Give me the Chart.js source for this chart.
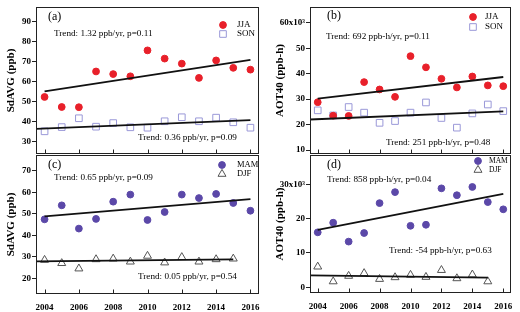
<!DOCTYPE html>
<html>
<head>
<meta charset="utf-8">
<script src="https://cdn.jsdelivr.net/npm/chart.js@4.4.0/dist/chart.umd.min.js"></script>
<style>
  body { margin: 0; background: #fff; }
  #wrap { position: relative; width: 520px; height: 312px; }
  canvas { position: absolute; left: 0; top: 0; }
</style>
</head>
<body>
<div id="wrap">
  <canvas id="panelA" width="520" height="312"></canvas>
  <canvas id="panelB" width="520" height="312"></canvas>
  <canvas id="panelC" width="520" height="312"></canvas>
  <canvas id="panelD" width="520" height="312"></canvas>
</div>
<script>
// years on the x axis
const years = [2004, 2005, 2006, 2007, 2008, 2009, 2010, 2011, 2012, 2013, 2014, 2015, 2016];
const yearsDJF = [2004, 2005, 2006, 2007, 2008, 2009, 2010, 2011, 2012, 2013, 2014, 2015];
const yearTicks = [2004, 2006, 2008, 2010, 2012, 2014, 2016];

// y tick values per panel
const ticksA = [30, 40, 50, 60, 70, 80, 90];
const ticksB = [10000, 20000, 30000, 40000, 50000, 60000];
const ticksC = [20, 30, 40, 50, 60, 70];
const ticksD = [0, 10000, 20000, 30000];

// SdAVG (ppb)
const sdavgJJA = [52.3, 47.3, 47.2, 65.0, 63.7, 62.6, 75.5, 71.4, 68.9, 61.8, 70.5, 66.8, 65.9];
const sdavgSON = [35.2, 37.3, 41.7, 37.5, 39.3, 37.2, 37.0, 40.2, 42.2, 40.2, 42.0, 39.7, 37.0];
const sdavgMAM = [47.4, 53.9, 43.1, 47.6, 55.6, 58.9, 47.1, 50.8, 58.9, 57.3, 59.2, 55.0, 51.4];
const sdavgDJF = [28.5, 27.0, 24.5, 28.8, 29.1, 27.7, 30.4, 27.3, 29.8, 27.7, 28.8, 29.1];

// AOT40 (ppb-h)
const aotJJA = [28800, 23500, 23400, 36700, 33800, 30900, 46900, 42500, 38000, 34600, 38900, 35400, 35100];
const aotSON = [25600, 23600, 26900, 24700, 20700, 21400, 24700, 28700, 22600, 18800, 24400, 27900, 25300];
const aotMAM = [16000, 18800, 13300, 15800, 24500, 27700, 17900, 18200, 28800, 26800, 29200, 24800, 22700];
const aotDJF = [6000, 1700, 3300, 4100, 2400, 2900, 3600, 3000, 5000, 2600, 3700, 1700];

// trend line end points [year, value]
const trendSdavgJJA = [[2004, 55.1], [2016, 70.8]];
const trendSdavgSON = [[2003.5, 36.4], [2016, 40.8]];
const trendAotJJA = [[2004, 30200], [2016, 38700]];
const trendAotSON = [[2003.5, 22000], [2016, 25200]];
const trendSdavgMAM = [[2004, 48.8], [2016, 56.8]];
const trendSdavgDJF = [[2003.5, 27.9], [2015, 28.8]];
const trendAotMAM = [[2004, 16700], [2016, 27200]];
const trendAotDJF = [[2003.5, 3500], [2015, 2800]];

const SERIF = '"Liberation Serif", "Times New Roman", serif';

function points(xs, ys) {
  return xs.map((x, i) => ({ x: x, y: ys[i] }));
}

function marks(label, xs, ys, style) {
  return Object.assign({
    label: label,
    data: points(xs, ys),
    borderWidth: 1,
    order: 2
  }, style);
}

function trend(pts) {
  return {
    isTrend: true,
    data: pts.map(p => ({ x: p[0], y: p[1] })),
    showLine: true,
    borderColor: '#111',
    borderWidth: 1.8,
    pointRadius: 0,
    order: 1
  };
}

const redDot = { pointStyle: 'circle', pointRadius: 3.4, backgroundColor: '#e8202a', borderColor: '#e8202a' };
const openSquare = { pointStyle: 'rect', pointRadius: 4.7, backgroundColor: 'rgba(255,255,255,0)', borderColor: '#9a98d8' };
const purpleDot = { pointStyle: 'circle', pointRadius: 3.4, backgroundColor: '#5b48a8', borderColor: '#5b48a8' };
const openTriangle = { pointStyle: 'triangle', pointRadius: 4.6, backgroundColor: 'rgba(255,255,255,0)', borderColor: '#555' };

// frame, inner x ticks, panel letter, trend notes and legend
const decor = {
  id: 'decor',
  afterDraw(chart, args, opts) {
    const { ctx, chartArea: a, scales } = chart;
    ctx.save();
    ctx.strokeStyle = '#222';
    ctx.lineWidth = 1;
    const l = Math.round(a.left) + 0.5, t = Math.round(a.top) + 0.5;
    const r = Math.round(a.right) - 0.5, b = Math.round(a.bottom) - 0.5;
    ctx.strokeRect(l, t, r - l, b - t);
    yearTicks.forEach(v => {
      const px = Math.round(scales.x.getPixelForValue(v)) + 0.5;
      ctx.beginPath();
      ctx.moveTo(px, b);
      ctx.lineTo(px, b - 4);
      ctx.stroke();
    });

    ctx.fillStyle = '#000';
    ctx.textBaseline = 'middle';
    ctx.textAlign = 'left';
    ctx.font = '12px ' + SERIF;
    ctx.fillText(opts.letter, a.left + opts.letterAt[0], a.top + opts.letterAt[1]);
    ctx.font = '9.2px ' + SERIF;
    opts.notes.forEach(n => ctx.fillText(n.text, a.left + n.at[0], a.top + n.at[1]));

    let row = 0;
    chart.data.datasets.forEach(ds => {
      if (ds.isTrend) return;
      const y = a.top + opts.legend.top + row * opts.legend.gap;
      ctx.fillStyle = ds.backgroundColor;
      ctx.strokeStyle = ds.borderColor;
      ctx.lineWidth = ds.borderWidth;
      Chart.helpers.drawPoint(ctx, {
        pointStyle: ds.pointStyle, radius: ds.pointRadius, rotation: 0, borderWidth: ds.borderWidth
      }, a.right - opts.legend.marker, y);
      ctx.fillStyle = '#000';
      ctx.font = opts.legend.size + 'px ' + SERIF;
      ctx.fillText(ds.label, a.right - opts.legend.text, y);
      row++;
    });
    ctx.restore();
  }
};

function panel(id, cfg) {
  const area = cfg.area;
  const yw = cfg.yAxisWidth;
  const xh = cfg.xLabels ? 312 - area.bottom : 0;
  new Chart(document.getElementById(id), {
    type: 'scatter',
    data: { datasets: cfg.datasets },
    options: {
      responsive: false,
      animation: false,
      events: [],
      layout: {
        padding: {
          left: area.left - yw,
          top: area.top,
          right: 520 - area.right,
          bottom: 312 - area.bottom - xh
        }
      },
      plugins: {
        legend: { display: false },
        tooltip: { enabled: false },
        decor: cfg.decor
      },
      scales: {
        x: {
          type: 'linear',
          min: 2003.5,
          max: 2016.5,
          afterBuildTicks: s => { s.ticks = yearTicks.map(v => ({ value: v })); },
          afterFit: s => { s.height = xh; },
          grid: { display: false },
          border: { display: false },
          ticks: {
            display: cfg.xLabels,
            callback: v => String(v),
            color: '#000',
            padding: 0,
            maxRotation: 0,
            font: { family: SERIF, size: 9, weight: 'bold' }
          }
        },
        y: {
          min: cfg.yMin,
          max: cfg.yMax,
          afterBuildTicks: s => { s.ticks = cfg.yTicks.map(v => ({ value: v })); },
          afterFit: s => { s.width = yw; },
          grid: { drawOnChartArea: false, color: '#222', tickLength: 4 },
          border: { display: false },
          title: {
            display: true,
            text: cfg.yTitle,
            color: '#000',
            padding: 0,
            font: { family: SERIF, size: 11, weight: 'bold' }
          },
          ticks: {
            color: '#000',
            padding: 1,
            callback: cfg.yFormat,
            font: { family: SERIF, size: 9, weight: 'bold' }
          }
        }
      }
    },
    plugins: [decor]
  });
}

const sdavgFormat = v => String(v);
const aotFormat = top => v => (v === top ? (v / 1000) + 'x10\u00b3' : String(v / 1000));

panel('panelA', {
  area: { left: 36, top: 7, right: 259, bottom: 154 },
  yAxisWidth: 31, yMin: 23.9, yMax: 97.1, yTicks: ticksA,
  yTitle: 'SdAVG (ppb)', yFormat: sdavgFormat, xLabels: false,
  datasets: [marks('JJA', years, sdavgJJA, redDot), marks('SON', years, sdavgSON, openSquare),
    trend(trendSdavgJJA), trend(trendSdavgSON)],
  decor: {
    letter: '(a)', letterAt: [12, 10],
    notes: [{ text: 'Trend: 1.32 ppb/yr, p=0.11', at: [18, 27] },
            { text: 'Trend: 0.36 ppb/yr, p=0.09', at: [102, 131] }],
    legend: { top: 18, gap: 9, marker: 36, text: 22, size: 9 }
  }
});

panel('panelB', {
  area: { left: 310, top: 7, right: 511, bottom: 154 },
  yAxisWidth: 36, yMin: 8450, yMax: 66200, yTicks: ticksB,
  yTitle: 'AOT40 (ppb-h)', yFormat: aotFormat(60000), xLabels: false,
  datasets: [marks('JJA', years, aotJJA, redDot), marks('SON', years, aotSON, openSquare),
    trend(trendAotJJA), trend(trendAotSON)],
  decor: {
    letter: '(b)', letterAt: [17, 9],
    notes: [{ text: 'Trend: 692 ppb-h/yr, p=0.11', at: [16, 30] },
            { text: 'Trend: 251 ppb-h/yr, p=0.48', at: [76, 136] }],
    legend: { top: 10, gap: 10, marker: 38, text: 26, size: 9 }
  }
});

panel('panelC', {
  area: { left: 36, top: 155, right: 259, bottom: 294 },
  yAxisWidth: 31, yMin: 12.7, yMax: 77.3, yTicks: ticksC,
  yTitle: 'SdAVG (ppb)', yFormat: sdavgFormat, xLabels: true,
  datasets: [marks('MAM', years, sdavgMAM, purpleDot), marks('DJF', yearsDJF, sdavgDJF, openTriangle),
    trend(trendSdavgMAM), trend(trendSdavgDJF)],
  decor: {
    letter: '(c)', letterAt: [12, 10],
    notes: [{ text: 'Trend: 0.65 ppb/yr, p=0.09', at: [18, 23] },
            { text: 'Trend: 0.05 ppb/yr, p=0.54', at: [102, 122] }],
    legend: { top: 10, gap: 9, marker: 37, text: 22, size: 8.5 }
  }
});

panel('panelD', {
  area: { left: 310, top: 155, right: 511, bottom: 293 },
  yAxisWidth: 36, yMin: -1650, yMax: 38500, yTicks: ticksD,
  yTitle: 'AOT40 (ppb-h)', yFormat: aotFormat(30000), xLabels: true,
  datasets: [marks('MAM', years, aotMAM, purpleDot), marks('DJF', yearsDJF, aotDJF, openTriangle),
    trend(trendAotMAM), trend(trendAotDJF)],
  decor: {
    letter: '(d)', letterAt: [17, 10],
    notes: [{ text: 'Trend: 858 ppb-h/yr, p=0.04', at: [17, 25] },
            { text: 'Trend: -54 ppb-h/yr, p=0.63', at: [79, 96] }],
    legend: { top: 6, gap: 9, marker: 33, text: 22, size: 7.5 }
  }
});
</script>
</body>
</html>
